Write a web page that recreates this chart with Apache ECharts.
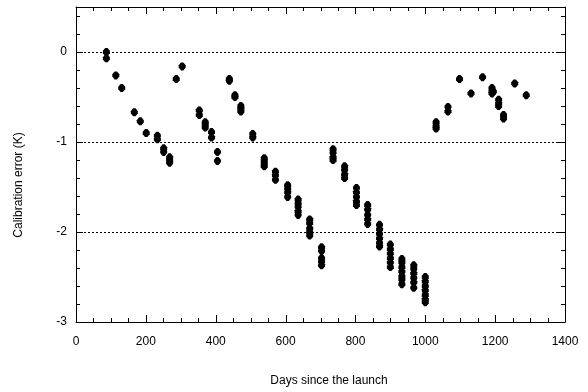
<!DOCTYPE html>
<html>
<head>
<meta charset="utf-8">
<script src="https://cdn.jsdelivr.net/npm/echarts@6/dist/echarts.min.js"></script>
<style>
  html, body { margin: 0; padding: 0; background: #fff; }
  #chart { width: 588px; height: 392px; }
</style>
</head>
<body>
<div id="chart"></div>
<script>
// Days since launch at which each group of calibration runs was taken
const days = [87, 114, 131, 167, 184, 201, 233, 251, 268, 287, 304, 353, 370, 388, 405,
  439, 455, 472, 506, 539, 571, 606, 636, 669, 703, 736, 769, 803, 835, 869, 900, 933,
  967, 1000, 1031, 1065, 1098, 1131, 1164, 1191, 1195, 1210, 1224, 1256, 1289];

// Calibration errors (K) measured on each of those days
const errors = [
  [0.0, -0.07], [-0.26], [-0.40], [-0.67], [-0.77], [-0.90], [-0.93, -0.97],
  [-1.07, -1.11], [-1.17, -1.20, -1.23], [-0.30], [-0.16], [-0.65, -0.70],
  [-0.78, -0.81, -0.84], [-0.89, -0.95], [-1.11, -1.21], [-0.30, -0.32],
  [-0.48, -0.50], [-0.60, -0.63, -0.66], [-0.91, -0.95], [-1.18, -1.21, -1.24, -1.27],
  [-1.33, -1.37, -1.42], [-1.48, -1.52, -1.56, -1.61], [-1.64, -1.68, -1.72, -1.77, -1.81],
  [-1.86, -1.90, -1.96, -2.00, -2.04], [-2.17, -2.21, -2.29, -2.33, -2.37],
  [-1.08, -1.12, -1.17, -1.20], [-1.27, -1.31, -1.36, -1.40],
  [-1.51, -1.56, -1.61, -1.66, -1.70], [-1.70, -1.75, -1.81, -1.86, -1.91],
  [-1.92, -1.97, -2.02, -2.07, -2.12, -2.16], [-2.14, -2.19, -2.24, -2.29, -2.34, -2.39],
  [-2.30, -2.34, -2.39, -2.44, -2.49, -2.53, -2.58], [-2.37, -2.41, -2.46, -2.51, -2.56, -2.62],
  [-2.50, -2.55, -2.60, -2.65, -2.70, -2.75, -2.78], [-0.78, -0.82, -0.85], [-0.61, -0.66],
  [-0.30], [-0.46], [-0.28], [-0.40, -0.44, -0.46], [-0.44], [-0.53, -0.57, -0.60],
  [-0.70, -0.74], [-0.35], [-0.48]
];

const xTicks = { min: 0, max: 1400, step: 200, minorStep: 50 };
const yTicks = { min: -3, max: 0.5, step: 1, minorStep: 0.2 };
const xTitle = 'Days since the launch';
const yTitle = 'Calibration error (K)';

const points = [];
days.forEach((d, i) => errors[i].forEach(v => points.push([d, v])));

// Tick marks for the frame: [value, kind] with kind 0/1 = x major/minor, 2/3 = y major/minor
const frameTicks = [];
for (let v = xTicks.min; v <= xTicks.max + 1e-9; v += xTicks.minorStep) {
  const major = Math.abs(v / xTicks.step - Math.round(v / xTicks.step)) < 1e-6;
  frameTicks.push([v, major ? 0 : 1]);
}
for (let i = 0; yTicks.min + i * yTicks.minorStep <= yTicks.max + 1e-9; i++) {
  const v = yTicks.min + i * yTicks.minorStep;
  const major = Math.abs(v / yTicks.step - Math.round(v / yTicks.step)) < 1e-6;
  frameTicks.push([+v.toFixed(3), major ? 2 : 3]);
}

const FONT = 'Liberation Sans, Arial, Helvetica, sans-serif';
const plain = v => String(v);

function frameAxis(scale, position, withLabels) {
  return {
    type: 'value', position: position,
    min: scale.min, max: scale.max, interval: scale.step,
    axisLine: { show: true, onZero: false, lineStyle: { color: '#000', width: 1 } },
    axisTick: { show: false },
    minorTick: { show: false },
    axisLabel: withLabels
      ? { show: true, color: '#000', fontSize: 12, fontFamily: FONT, formatter: plain }
      : { show: false },
    splitLine: { show: false }
  };
}

const xBottom = frameAxis(xTicks, 'bottom', true);
xBottom.axisLabel.margin = 14;
const xTop = frameAxis(xTicks, 'top', false);
const yLeft = frameAxis(yTicks, 'left', true);
yLeft.axisLabel.margin = 9;
yLeft.axisLabel.showMaxLabel = false;
yLeft.splitLine = { show: true, lineStyle: { color: '#000', width: 1, type: [2, 2] } };
const yRight = frameAxis(yTicks, 'right', false);

// Inward ticks on all four sides of the frame, placed through the axis scales
function renderTick(params, api) {
  const v = api.value(0);
  const kind = api.value(1);
  const lo = api.coord([xTicks.min, yTicks.min]);
  const hi = api.coord([xTicks.max, yTicks.max]);
  const len = (kind === 0 || kind === 2) ? 7 : 4;
  const style = { stroke: '#000', lineWidth: 1 };
  if (kind <= 1) {
    const x = Math.round(api.coord([v, yTicks.min])[0]) + 0.5;
    return {
      type: 'group', children: [
        { type: 'line', shape: { x1: x, y1: lo[1], x2: x, y2: lo[1] - len }, style: style },
        { type: 'line', shape: { x1: x, y1: hi[1], x2: x, y2: hi[1] + len }, style: style }
      ]
    };
  }
  const y = Math.round(api.coord([xTicks.min, v])[1]) + 0.5;
  return {
    type: 'group', children: [
      { type: 'line', shape: { x1: lo[0], y1: y, x2: lo[0] + len, y2: y }, style: style },
      { type: 'line', shape: { x1: hi[0], y1: y, x2: hi[0] - len, y2: y }, style: style }
    ]
  };
}

const chart = echarts.init(document.getElementById('chart'), null, { renderer: 'canvas' });
chart.setOption({
  animation: false,
  grid: { left: 76, right: 23, top: 7, bottom: 70 },
  xAxis: [xBottom, xTop],
  yAxis: [yLeft, yRight],
  graphic: [
    {
      type: 'text', x: 329, y: 381,
      style: { text: xTitle, fill: '#000', font: '12px ' + FONT, align: 'center', verticalAlign: 'middle' }
    },
    {
      type: 'text', x: 19, y: 185, rotation: Math.PI / 2,
      style: { text: yTitle, fill: '#000', font: '12px ' + FONT, align: 'center', verticalAlign: 'middle' }
    }
  ],
  series: [
    {
      type: 'custom',
      xAxisIndex: 0, yAxisIndex: 0,
      silent: true, z: 5, clip: false,
      encode: { x: 0 },
      renderItem: renderTick,
      data: frameTicks
    },
    {
      type: 'scatter',
      xAxisIndex: 0, yAxisIndex: 0,
      data: points,
      symbol: 'path://M2,0 L4,0 L6,2.5 L6,4.5 L4,7 L2,7 L0,4.5 L0,2.5 Z',
      symbolSize: [7, 8],
      itemStyle: { color: '#000', opacity: 1 }
    }
  ]
});
</script>
</body>
</html>
